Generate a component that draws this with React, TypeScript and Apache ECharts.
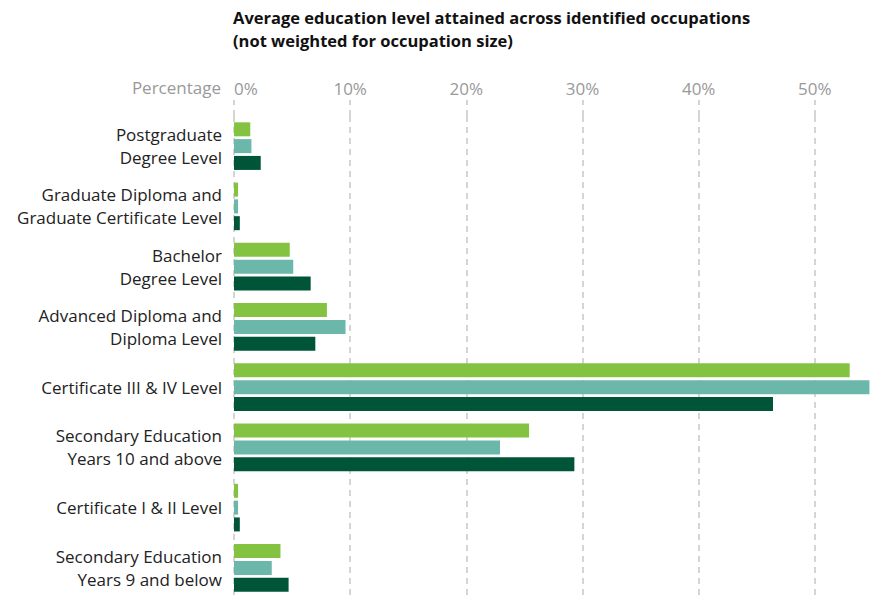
import React, { useEffect, useRef } from "react";
import * as echarts from "echarts";

const categories = [
  "Postgraduate\nDegree Level",
  "Graduate Diploma and\nGraduate Certificate Level",
  "Bachelor\nDegree Level",
  "Advanced Diploma and\nDiploma Level",
  "Certificate III & IV Level",
  "Secondary Education\nYears 10 and above",
  "Certificate I & II Level",
  "Secondary Education\nYears 9 and below",
];

const seriesA = [1.4, 0.35, 4.8, 8.0, 53.0, 25.4, 0.35, 4.0];
const seriesB = [1.5, 0.35, 5.1, 9.6, 54.7, 22.9, 0.35, 3.25];
const seriesC = [2.3, 0.5, 6.6, 7.0, 46.4, 29.3, 0.5, 4.7];

const tickValues = [0, 10, 20, 30, 40, 50];

const FONT = "'Open Sans', Roboto, sans-serif";

export default function App() {
  const ref = useRef<HTMLDivElement>(null);
  useEffect(() => {
    document.body.style.margin = "0";
    const chart = echarts.init(ref.current!, null, { renderer: "svg" });
    const dashed = { color: "#c8c8c8", width: 1.5, type: [6, 5] as any };
    chart.setOption({
      animation: false,
      textStyle: { fontFamily: FONT },
      title: {
        text: "Average education level attained across identified occupations\n(not weighted for occupation size)",
        left: 233,
        top: 6,
        padding: 0,
        textStyle: {
          fontFamily: FONT,
          fontSize: 16.5,
          fontWeight: "bold",
          color: "#111",
          lineHeight: 23,
        },
      },
      graphic: [
        {
          type: "text",
          right: 874 - 221,
          top: 79,
          style: {
            text: "Percentage",
            fill: "#999",
            fontSize: 17,
            fontFamily: FONT,
          },
        },
      ],
      grid: {
        left: 234,
        width: 697,
        top: 116,
        bottom: 1,
        containLabel: false,
        outerBoundsMode: "none",
      },
      xAxis: {
        type: "value",
        position: "top",
        min: 0,
        max: 60,
        interval: 10,
        axisLine: { show: false },
        axisTick: { show: true, length: 16, lineStyle: dashed },
        splitLine: { show: true, lineStyle: dashed },
        axisLabel: {
          showMaxLabel: false,
          alignMinLabel: "left",
          margin: 19,
          color: "#999",
          fontSize: 17,
          fontFamily: FONT,
          formatter: (v: number) => (tickValues.includes(v) ? v + "%" : ""),
        },
      },
      yAxis: {
        type: "category",
        inverse: true,
        data: categories,
        axisLine: { show: false },
        axisTick: { show: false },
        axisLabel: {
          margin: 12,
          color: "#222",
          fontSize: 17,
          lineHeight: 23,
          fontFamily: FONT,
        },
      },
      series: [
        { name: "A", type: "bar", data: seriesA, barWidth: 14, barGap: "20%", itemStyle: { color: "#84c341" } },
        { name: "B", type: "bar", data: seriesB, barWidth: 14, barGap: "20%", itemStyle: { color: "#6bb8aa" } },
        { name: "C", type: "bar", data: seriesC, barWidth: 14, barGap: "20%", itemStyle: { color: "#005438" } },
      ],
    });
    return () => chart.dispose();
  }, []);
  return <div ref={ref} style={{ width: 874, height: 599 }} />;
}
